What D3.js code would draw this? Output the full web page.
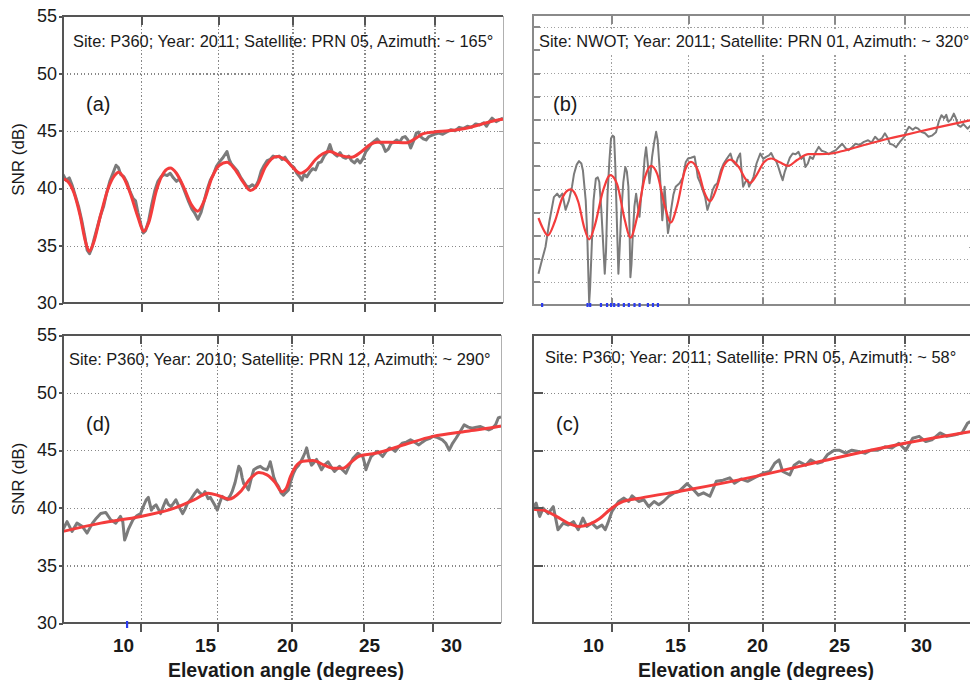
<!DOCTYPE html>
<html>
<head>
<meta charset="utf-8">
<script src="https://cdn.jsdelivr.net/npm/d3@7"></script>
<style>
body { margin: 0; background: #fff; }
svg { display: block; font-family: "Liberation Sans", Arial, sans-serif; }
</style>
</head>
<body>
<svg id="chart" width="970" height="680"></svg>
<script>
"use strict";

// ---- data: [elevation deg, SNR dB] ----
const xTicks = [10, 15, 20, 25, 30];
const yTicks = [30, 35, 40, 45, 50, 55];
const yGrid = [35, 40, 45, 50];
const yGridB = [32, 34, 36, 38, 40, 42, 44, 46, 48, 50, 52, 54];

const titleA = "Site: P360; Year: 2011; Satellite: PRN 05, Azimuth: ~ 165°";
const titleB = "Site: NWOT; Year: 2011; Satellite: PRN 01, Azimuth: ~ 320°";
const titleD = "Site: P360; Year: 2010; Satellite: PRN 12, Azimuth: ~ 290°";
const titleC = "Site: P360; Year: 2011; Satellite: PRN 05, Azimuth: ~ 58°";

const aGray = [[5.0,41.2],[5.2,40.7],[5.4,40.9],[5.6,40.2],[5.8,39.3],[6.0,38.4],[6.2,37.2],[6.4,35.8],[6.55,34.6],[6.7,34.3],[6.85,34.8],[7.0,35.6],[7.2,36.6],[7.4,37.6],[7.6,38.4],[7.8,39.6],[8.0,40.6],[8.2,41.3],[8.4,42.0],[8.55,41.8],[8.7,41.2],[8.9,41.0],[9.1,40.5],[9.3,39.7],[9.5,39.1],[9.65,38.9],[9.8,37.9],[10.0,36.8],[10.15,36.1],[10.3,36.3],[10.5,37.2],[10.7,38.6],[10.9,39.8],[11.1,40.6],[11.3,41.0],[11.5,41.2],[11.7,41.1],[11.9,41.3],[12.1,40.9],[12.3,40.6],[12.5,40.8],[12.7,40.2],[12.9,39.5],[13.1,38.8],[13.3,38.2],[13.5,37.8],[13.7,37.3],[13.9,37.9],[14.1,38.9],[14.3,39.9],[14.5,40.7],[14.7,41.2],[14.9,41.9],[15.1,42.3],[15.3,42.6],[15.5,43.0],[15.6,43.2],[15.75,42.5],[15.9,42.1],[16.1,41.8],[16.3,41.5],[16.5,41.0],[16.7,40.6],[16.9,40.2],[17.1,40.1],[17.3,40.3],[17.5,40.1],[17.7,40.6],[17.9,41.5],[18.1,42.0],[18.3,42.4],[18.5,42.5],[18.7,42.8],[18.9,42.7],[19.1,42.8],[19.3,42.5],[19.5,42.7],[19.7,42.3],[19.9,42.0],[20.1,41.8],[20.3,41.3],[20.5,41.0],[20.65,40.7],[20.8,41.2],[21.0,41.0],[21.2,41.4],[21.4,41.7],[21.6,41.6],[21.8,42.2],[22.0,42.3],[22.2,42.8],[22.4,43.1],[22.6,43.8],[22.75,43.2],[22.9,43.0],[23.1,42.8],[23.3,43.1],[23.5,42.7],[23.7,42.6],[23.9,42.8],[24.1,42.4],[24.3,42.2],[24.5,42.5],[24.7,42.2],[24.9,42.6],[25.1,43.2],[25.3,43.5],[25.5,43.9],[25.7,44.1],[25.9,44.3],[26.1,44.0],[26.3,43.8],[26.5,43.2],[26.7,43.4],[26.9,43.9],[27.1,44.0],[27.3,44.2],[27.5,44.0],[27.7,44.4],[27.9,44.5],[28.1,44.2],[28.3,43.5],[28.5,44.1],[28.7,44.8],[28.85,44.9],[29.0,44.5],[29.2,44.3],[29.4,44.2],[29.6,44.5],[29.8,44.6],[30.0,44.7],[30.3,44.8],[30.6,44.7],[30.9,44.9],[31.2,45.1],[31.5,45.0],[31.8,45.3],[32.1,45.2],[32.4,45.4],[32.7,45.3],[33.0,45.6],[33.3,45.5],[33.6,45.7],[33.8,45.4],[34.0,45.8],[34.2,46.1],[34.5,45.8],[34.8,46.0],[35.0,46.1]];
const aFit = [[5.0,40.8],[5.3,40.6],[5.7,39.6],[6.1,37.6],[6.45,35.3],[6.68,34.5],[6.95,35.2],[7.4,37.6],[7.9,40.0],[8.3,41.1],[8.56,41.4],[8.9,40.9],[9.3,39.6],[9.8,37.5],[10.17,36.25],[10.5,37.0],[11.0,39.8],[11.5,41.4],[11.9,41.75],[12.3,41.3],[12.8,40.0],[13.3,38.5],[13.68,38.0],[14.1,38.9],[14.6,40.9],[15.1,42.0],[15.6,42.25],[16.1,41.7],[16.7,40.5],[17.17,39.8],[17.6,40.2],[18.2,41.9],[18.95,42.77],[19.6,42.4],[20.1,41.7],[20.53,41.3],[21.0,41.6],[21.6,42.5],[22.1,43.0],[22.6,43.2],[23.2,42.9],[24.1,42.7],[24.8,43.2],[25.4,43.8],[25.9,44.0],[26.8,44.0],[28.0,43.95],[28.6,44.3],[29.2,44.75],[29.97,44.9],[31.0,45.0],[32.4,45.25],[33.5,45.6],[34.7,45.96],[35.0,46.0]];

const bGray = [[5.35,32.7],[5.6,34.0],[5.8,35.0],[6.05,37.2],[6.34,39.3],[6.55,39.6],[6.7,39.3],[6.88,39.6],[7.09,38.2],[7.3,39.0],[7.5,40.2],[7.63,41.3],[7.8,42.1],[7.95,42.4],[8.1,42.2],[8.2,41.6],[8.38,39.0],[8.48,36.0],[8.55,32.5],[8.6,30.2],[8.66,31.5],[8.72,33.5],[8.88,39.0],[9.03,40.9],[9.15,41.0],[9.25,40.6],[9.38,38.2],[9.46,36.2],[9.6,32.7],[9.68,34.6],[9.78,39.6],[9.9,42.5],[10.0,44.35],[10.1,44.6],[10.2,44.5],[10.28,42.0],[10.33,39.6],[10.48,32.7],[10.56,34.8],[10.65,37.6],[10.8,40.6],[10.93,41.9],[11.03,41.5],[11.13,40.2],[11.2,36.8],[11.26,32.4],[11.33,33.5],[11.4,35.6],[11.52,38.5],[11.63,39.6],[11.75,38.4],[11.85,37.6],[11.95,39.2],[12.07,40.5],[12.18,42.6],[12.28,43.6],[12.38,42.3],[12.5,40.5],[12.58,41.5],[12.67,42.8],[12.8,44.0],[12.93,44.93],[13.03,44.2],[13.15,41.9],[13.25,39.5],[13.33,37.3],[13.4,38.4],[13.48,40.2],[13.58,38.2],[13.7,36.2],[13.8,37.0],[13.9,38.2],[14.05,39.5],[14.2,40.2],[14.45,40.5],[14.67,41.0],[14.85,42.3],[15.0,42.63],[15.2,42.7],[15.44,42.8],[15.55,42.0],[15.66,41.0],[15.8,40.6],[15.99,39.9],[16.15,39.3],[16.3,38.2],[16.45,38.8],[16.65,39.9],[16.8,40.3],[16.97,40.5],[17.2,41.6],[17.4,42.2],[17.6,42.6],[17.85,43.06],[18.0,42.4],[18.2,42.1],[18.35,42.7],[18.5,43.06],[18.6,41.5],[18.7,40.2],[18.85,40.6],[19.0,40.8],[19.1,40.2],[19.25,40.6],[19.4,41.05],[19.6,42.2],[19.85,43.06],[20.05,42.6],[20.25,42.77],[20.45,42.9],[20.6,43.1],[20.8,42.6],[20.95,42.4],[21.1,41.9],[21.25,41.3],[21.4,40.76],[21.55,41.5],[21.75,42.2],[21.9,42.7],[22.1,43.06],[22.3,43.0],[22.5,43.2],[22.7,42.6],[22.85,42.8],[22.98,41.9],[23.15,42.2],[23.3,42.77],[23.5,42.6],[23.7,43.2],[23.9,43.63],[24.1,43.3],[24.35,43.2],[24.6,43.0],[24.85,43.2],[25.1,43.35],[25.3,43.6],[25.55,43.9],[25.8,43.5],[26.0,43.35],[26.25,43.6],[26.5,43.9],[26.8,43.8],[27.1,44.06],[27.4,44.2],[27.65,44.0],[27.9,44.5],[28.15,44.2],[28.4,44.4],[28.6,44.8],[28.8,44.4],[28.95,43.9],[29.2,43.8],[29.4,43.6],[29.7,44.1],[29.98,44.5],[30.15,45.0],[30.33,45.36],[30.6,45.1],[30.8,45.3],[31.0,45.2],[31.25,44.9],[31.5,44.8],[31.75,44.5],[32.0,44.6],[32.3,44.9],[32.5,45.8],[32.7,46.36],[32.9,46.1],[33.05,46.4],[33.2,45.8],[33.4,46.0],[33.6,46.5],[33.75,46.1],[33.9,45.5],[34.1,45.36],[34.3,45.6],[34.6,45.2],[34.85,45.5]];
const bFit = [[5.35,37.5],[5.6,36.7],[5.95,36.0],[6.4,37.2],[6.9,39.3],[7.41,39.96],[7.9,38.9],[8.3,36.6],[8.6,35.65],[8.95,36.8],[9.5,39.9],[9.96,41.2],[10.4,40.4],[10.9,37.3],[11.26,35.8],[11.7,37.6],[12.2,41.0],[12.6,42.0],[13.0,41.3],[13.5,38.5],[13.87,37.1],[14.3,38.6],[14.8,41.6],[15.2,42.34],[15.7,41.5],[16.1,39.7],[16.48,38.96],[16.9,40.0],[17.4,42.0],[17.85,42.54],[18.4,41.9],[18.9,40.8],[19.17,40.53],[19.6,41.2],[20.1,42.3],[20.6,42.63],[21.2,42.3],[21.8,42.0],[22.4,42.5],[23.2,43.0],[24.0,43.0],[24.8,43.06],[25.5,43.25],[27.0,43.75],[28.9,44.35],[30.0,44.65],[32.0,45.2],[34.6,45.87],[35.0,45.97]];

const dGray = [[5.0,38.1],[5.26,38.8],[5.58,37.95],[5.9,38.67],[6.23,38.4],[6.55,37.8],[6.9,38.67],[7.15,39.1],[7.43,39.5],[7.75,39.6],[8.07,38.96],[8.4,38.67],[8.7,39.25],[8.85,38.8],[8.97,37.2],[9.08,37.6],[9.2,38.1],[9.5,38.96],[9.75,39.3],[10.0,39.5],[10.2,40.2],[10.37,40.7],[10.5,40.9],[10.7,39.8],[10.85,40.1],[11.0,40.26],[11.15,39.9],[11.3,39.5],[11.5,40.2],[11.66,40.7],[11.8,40.3],[11.98,40.1],[12.15,40.4],[12.3,40.7],[12.5,40.1],[12.74,39.5],[12.9,39.9],[13.06,40.4],[13.25,40.7],[13.4,41.0],[13.55,41.3],[13.7,41.56],[13.85,41.3],[14.05,41.1],[14.2,41.4],[14.4,40.8],[14.55,40.9],[14.7,40.55],[14.85,40.2],[15.0,39.8],[15.15,40.4],[15.33,41.0],[15.5,40.8],[15.67,40.7],[15.85,41.0],[16.0,41.4],[16.2,42.2],[16.34,43.0],[16.45,43.6],[16.56,43.4],[16.68,42.6],[16.78,42.1],[16.95,41.9],[17.1,41.56],[17.3,42.6],[17.46,43.3],[17.7,43.5],[17.9,43.6],[18.1,43.4],[18.35,43.3],[18.5,43.7],[18.57,44.0],[18.7,43.3],[18.8,42.7],[18.95,42.2],[19.13,41.85],[19.3,41.3],[19.46,41.1],[19.6,41.3],[19.8,41.56],[19.95,42.3],[20.14,43.0],[20.3,43.4],[20.5,43.7],[20.65,44.0],[20.83,44.45],[20.95,44.8],[21.06,45.2],[21.2,44.4],[21.4,43.7],[21.55,43.9],[21.75,44.2],[21.9,43.8],[22.1,43.3],[22.3,43.7],[22.55,44.0],[22.75,43.6],[23.0,43.15],[23.2,43.4],[23.35,43.6],[23.55,43.3],[23.8,43.0],[24.05,43.7],[24.3,44.3],[24.63,44.74],[24.98,44.45],[25.1,43.9],[25.2,43.3],[25.35,43.8],[25.57,44.45],[25.8,44.7],[26.0,44.9],[26.2,44.7],[26.4,44.45],[26.65,44.9],[26.9,45.2],[27.1,45.1],[27.3,44.9],[27.55,45.3],[27.8,45.6],[28.1,45.7],[28.4,45.9],[28.7,45.7],[29.0,45.46],[29.25,45.7],[29.5,45.9],[29.75,46.0],[30.0,46.2],[30.35,46.1],[30.7,45.9],[30.95,45.6],[31.2,45.0],[31.45,45.6],[31.7,46.04],[32.0,46.6],[32.3,47.2],[32.6,47.0],[32.9,46.9],[33.2,47.0],[33.5,47.05],[33.8,46.9],[34.1,46.76],[34.35,46.9],[34.6,47.2],[34.8,47.8],[35.0,47.9]];
const dFit = [[5.0,37.95],[7.43,38.67],[10.0,39.25],[12.2,39.97],[13.5,40.7],[14.4,41.27],[15.1,41.05],[15.78,40.75],[16.56,41.4],[17.2,42.5],[17.8,43.06],[18.35,42.86],[18.9,42.2],[19.35,41.4],[19.65,41.7],[19.93,42.7],[20.3,43.6],[20.8,44.05],[21.5,44.1],[22.3,43.7],[22.9,43.44],[23.6,43.44],[24.2,44.0],[24.75,44.5],[25.9,44.74],[28.0,45.5],[30.0,46.2],[32.5,46.65],[34.8,47.05],[35.0,47.1]];

const cGray = [[5.04,40.1],[5.2,40.4],[5.43,39.25],[5.65,39.97],[5.97,39.5],[6.3,40.1],[6.6,38.1],[6.94,38.67],[7.26,38.5],[7.59,38.8],[7.9,38.1],[8.2,39.1],[8.45,38.38],[8.77,38.67],[9.1,38.24],[9.42,38.5],[9.63,38.1],[9.8,38.67],[10.06,39.68],[10.5,40.55],[10.82,40.84],[11.15,40.55],[11.37,41.04],[11.8,40.55],[12.13,40.7],[12.45,40.1],[12.8,40.55],[13.1,40.26],[13.4,40.55],[13.75,41.0],[14.07,41.27],[14.4,41.4],[14.94,42.1],[15.37,41.56],[15.7,41.1],[16.04,41.3],[16.47,41.0],[16.9,42.3],[17.35,42.4],[17.8,42.6],[18.12,42.14],[18.57,42.5],[19.0,42.3],[19.6,42.7],[20.05,43.0],[20.5,43.15],[20.85,43.87],[21.15,44.16],[21.4,43.15],[21.9,42.86],[22.2,43.7],[22.55,44.0],[23.0,43.7],[23.35,44.16],[23.8,43.87],[24.17,44.0],[24.5,44.6],[24.98,45.0],[25.33,45.0],[25.8,44.74],[26.24,45.0],[26.7,44.9],[27.2,44.74],[27.6,45.0],[28.1,45.0],[28.6,45.3],[29.1,45.2],[29.6,45.6],[30.1,45.0],[30.6,46.04],[31.07,46.2],[31.55,45.75],[32.0,45.9],[32.6,46.5],[33.1,46.2],[33.7,46.33],[34.2,46.5],[34.6,47.34],[34.8,47.5]];
const cFit = [[5.0,39.88],[5.65,39.8],[6.5,39.25],[7.37,38.6],[8.0,38.38],[8.66,38.6],[9.3,39.1],[9.96,39.88],[10.8,40.55],[11.9,40.84],[15.0,41.56],[20.0,42.86],[25.0,44.3],[30.0,45.6],[35.0,46.65]];

const blueB = [5.58, 8.49, 8.66, 9.35, 9.74, 10.0, 10.2, 10.48, 10.83, 11.15, 11.52, 11.85, 12.39, 12.72, 13.04];
const blueD = [9.12];

// ---- layout ----
const xStops = [5, 10, 15, 20, 25, 30, 35];
const xStopPx = [0, 78, 155, 229.5, 301.5, 371.5, 440];

const panels = [
  {letter: "(a)", title: titleA, gray: aGray, fit: aFit, left: 63, right: 503, top: 16, bottom: 303,
   yLabels: true, xLabels: false, thin: false, tx: 10, ty: 47, ly: 111},
  {letter: "(b)", title: titleB, gray: bGray, fit: bFit, left: 533, right: 973, top: 15, bottom: 305,
   yLabels: false, xLabels: false, thin: true, tx: 6, ty: 47, ly: 111, blue: blueB},
  {letter: "(d)", title: titleD, gray: dGray, fit: dFit, left: 63, right: 501, top: 335, bottom: 623,
   yLabels: true, xLabels: true, thin: false, tx: 6, ty: 365, ly: 431, blue: blueD},
  {letter: "(c)", title: titleC, gray: cGray, fit: cFit, left: 533, right: 973, top: 335, bottom: 623,
   yLabels: false, xLabels: true, thin: false, tx: 12, ty: 363, ly: 431}
];

const svg = d3.select("#chart");
const grayCol = "#7b7b7b", redCol = "#f43c3c", frameCol = "#555";

// strip the axis path and restyle its tick lines
function styleAxis(ax, col, width, dash)
{
  ax.select(".domain").remove();
  ax.selectAll(".tick line")
    .attr("stroke", col).attr("stroke-width", width)
    .attr("stroke-dasharray", dash || null)
    .attr("shape-rendering", "crispEdges");
  return ax;
}

panels.forEach((p, i) => {
  const w = p.right - p.left;
  const h = p.bottom - p.top;
  const x = d3.scaleLinear().domain(xStops).range(xStopPx.map(v => p.left + v * w / 440));
  const y = d3.scaleLinear().domain([30, 55]).range([p.bottom, p.top]);
  const g = svg.append("g");

  g.append("clipPath").attr("id", "clip" + i)
    .append("rect").attr("x", p.left).attr("y", p.top).attr("width", w).attr("height", h);

  const gridCol = p.thin ? "#a0a0a0" : "#888888";

  // dotted grid
  styleAxis(g.append("g").attr("transform", `translate(0,${p.bottom})`)
    .call(d3.axisBottom(x).tickValues(xTicks).tickSize(-h).tickFormat("")), gridCol, 1.2, "1.2,2.3");
  styleAxis(g.append("g").attr("transform", `translate(${p.left},0)`)
    .call(d3.axisLeft(y).tickValues(p.thin ? yGridB : yGrid).tickSize(-w).tickFormat("")), gridCol, 1.2, "1.2,2.3");

  // title and panel letter
  const t = g.append("text").attr("x", p.left + p.tx).attr("y", p.ty)
    .attr("font-size", 16.4).attr("fill", "#1a1a1a").text(p.title);
  if (p.thin) {
    const bb = t.node().getBBox();
    g.insert("rect", () => t.node()).attr("x", p.left + 1).attr("y", bb.y - 3)
      .attr("width", w).attr("height", bb.height + 6).attr("fill", "#fff");
  }
  g.append("text").attr("x", p.left + (p.thin ? 20 : 23)).attr("y", p.ly)
    .attr("font-size", 20).attr("fill", "#1a1a1a").text(p.letter);

  // measured SNR (gray) and fitted model (red)
  const line = d3.line().x(d => x(d[0])).y(d => y(d[1]));
  g.append("path").datum(p.gray).attr("clip-path", `url(#clip${i})`)
    .attr("d", line.curve(d3.curveLinear))
    .attr("fill", "none").attr("stroke", grayCol)
    .attr("stroke-width", p.thin ? 2 : 3).attr("stroke-linejoin", "round");
  g.append("path").datum(p.fit).attr("clip-path", `url(#clip${i})`)
    .attr("d", line.curve(d3.curveMonotoneX))
    .attr("fill", "none").attr("stroke", redCol)
    .attr("stroke-width", p.thin ? 2.2 : 3);

  // frame
  const fc = p.thin ? "#8a8a8a" : frameCol;
  g.append("path")
    .attr("d", `M${p.right},${p.top}H${p.left}V${p.bottom}H${p.right}`)
    .attr("fill", "none").attr("stroke", fc).attr("stroke-width", 2).attr("shape-rendering", "crispEdges");
  g.append("path")
    .attr("d", `M${p.right},${p.top}V${p.bottom}`)
    .attr("fill", "none").attr("stroke", "#b0b0b0").attr("stroke-width", 1).attr("shape-rendering", "crispEdges");

  // tick marks: top inward, bottom outward (inward on b), left inward on right-hand panels
  styleAxis(g.append("g").attr("transform", `translate(0,${p.top})`)
    .call(d3.axisTop(x).tickValues(xTicks).tickSize(-9).tickFormat("")), fc, 2);
  styleAxis(g.append("g").attr("transform", `translate(0,${p.bottom})`)
    .call(d3.axisBottom(x).tickValues(xTicks).tickSize(p.thin ? -7 : 9).tickFormat("")), fc, 2);
  if (!p.yLabels) {
    styleAxis(g.append("g").attr("transform", `translate(${p.left},0)`)
      .call(d3.axisLeft(y).tickValues(p.thin ? yGridB : yGrid).tickSize(p.thin ? -7 : -10).tickFormat("")), fc, 2);
  }
  styleAxis(g.append("g").attr("transform", `translate(${p.right},0)`)
    .call(d3.axisRight(y).tickValues(yGrid).tickSize(-4).tickFormat("")), "#a0a0a0", 1);

  // blue markers on the elevation axis
  if (p.blue) {
    g.selectAll(null).data(p.blue).join("rect")
      .attr("x", d => x(d) - 1).attr("y", p.bottom - 2)
      .attr("width", 2.2).attr("height", p.thin ? 4 : 7).attr("fill", "#2b3cf0");
  }

  // y labels
  if (p.yLabels) {
    const ax = styleAxis(g.append("g").attr("transform", `translate(${p.left},0)`)
      .call(d3.axisLeft(y).tickValues(yTicks).tickSize(4).tickPadding(2)), fc, 2);
    ax.selectAll("text").attr("font-size", 18).attr("fill", "#1a1a1a")
      .attr("font-family", "\"Liberation Sans\", Arial, sans-serif");
    g.append("text")
      .attr("transform", `translate(24,${(p.top + p.bottom) / 2}) rotate(-90)`)
      .attr("text-anchor", "middle").attr("font-size", 17).attr("fill", "#1a1a1a")
      .text("SNR (dB)");
  }

  // x labels (placed as in the composite figure, offset from the ticks)
  if (p.xLabels) {
    const xLab = d3.scaleLinear().domain([10, 30]).range([p.left + 60, p.left + 388]);
    const ax = g.append("g").attr("transform", `translate(0,${p.bottom})`)
      .call(d3.axisBottom(xLab).tickValues(xTicks).tickSize(0).tickPadding(15.5));
    ax.select(".domain").remove();
    ax.selectAll("text").attr("font-size", 19).attr("font-weight", "bold").attr("fill", "#1a1a1a")
      .attr("font-family", "\"Liberation Sans\", Arial, sans-serif");
    g.append("text").attr("x", p.left + 223).attr("y", 677)
      .attr("text-anchor", "middle").attr("font-size", 19.5).attr("font-weight", "bold")
      .attr("fill", "#1a1a1a").text("Elevation angle (degrees)");
  }
});
</script>
</body>
</html>
